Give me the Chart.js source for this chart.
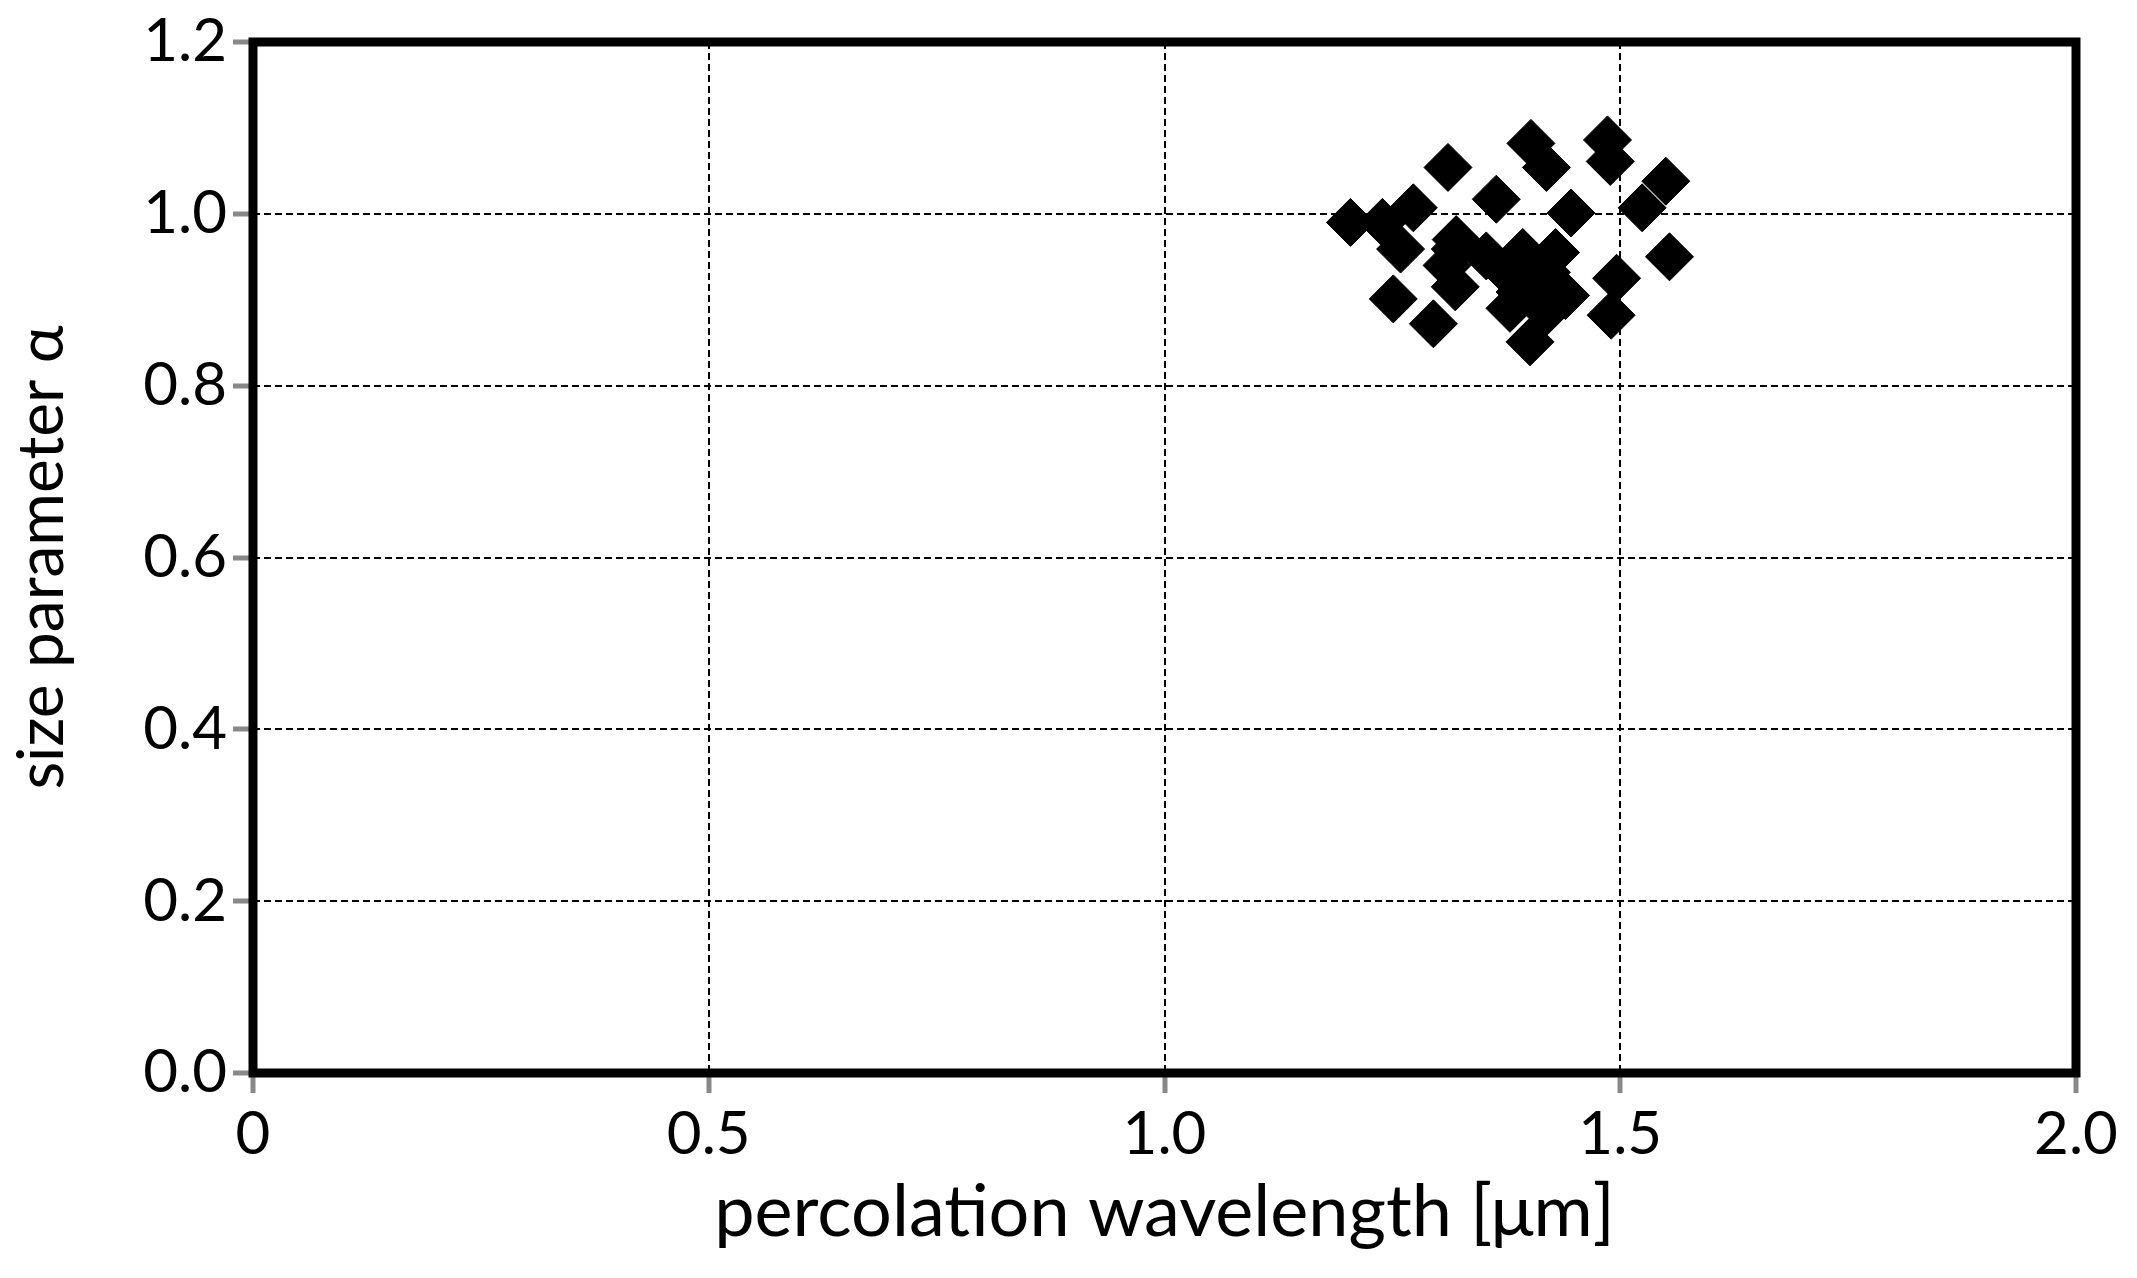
<!DOCTYPE html>
<html><head><meta charset="utf-8">
<script src="https://cdn.jsdelivr.net/npm/chart.js@4"></script>
<style>html,body{margin:0;background:#fff}#w{width:2137px;height:1278px}</style>
</head><body><div id="w"><canvas id="c"></canvas></div>
<script>
const xValues=[1.204,1.239,1.273,1.311,1.259,1.251,1.295,1.319,1.310,1.319,1.353,1.364,1.402,1.419,1.446,1.393,1.429,1.390,1.419,1.440,1.419,1.401,1.379,1.486,1.489,1.550,1.524,1.554,1.496,1.490,1.375,1.320];
const yValues=[0.990,0.990,1.007,1.054,0.959,0.901,0.872,0.959,0.940,0.915,0.951,1.017,1.082,1.054,1.001,0.955,0.955,0.909,0.932,0.905,0.886,0.851,0.890,1.086,1.061,1.038,1.007,0.950,0.925,0.882,0.932,0.970];
const xTicks=[0,0.5,1.0,1.5,2.0];
const xTickLabels=['0','0.5','1.0','1.5','2.0'];
const yTicks=[0,0.2,0.4,0.6,0.8,1.0,1.2];
const pts=xValues.map((x,i)=>({x,y:yValues[i]}));
const F='Lato, "Open Sans", sans-serif';
const frame={id:'frame',afterDatasetsDraw(ch){const a=ch.chartArea,c=ch.ctx;c.save();c.lineWidth=9;c.strokeStyle='#000';c.strokeRect(a.left,a.top,a.right-a.left,a.bottom-a.top);c.restore();}};
new Chart(document.getElementById('c'),{type:'scatter',
data:{datasets:[{data:pts,pointStyle:'rectRot',pointRadius:24,pointHoverRadius:24,backgroundColor:'#000',borderColor:'#000',borderWidth:1}]},
plugins:[frame],
options:{responsive:true,maintainAspectRatio:false,animation:false,
layout:{padding:{top:38,right:61,left:0,bottom:18}},
plugins:{legend:{display:false},tooltip:{enabled:false}},
scales:{
x:{type:'linear',min:0,max:2,afterBuildTicks(s){s.ticks=xTicks.map(v=>({value:v}));},
afterFit(s){s.height=187;},
ticks:{callback:(v)=>xTickLabels[xTicks.indexOf(v)]??'',font:{family:F,size:60},color:'#000',padding:6,maxRotation:0},
grid:{color:'#000',lineWidth:2,tickColor:'#888',tickLength:20,tickWidth:5,tickBorderDash:[]},
border:{display:false,dash:[7,4]},
title:{display:true,text:'percolation wavelength [μm]',font:{family:F,size:72},color:'#000',padding:{top:0}}},
y:{type:'linear',min:0,max:1.2,afterBuildTicks(s){s.ticks=yTicks.map(v=>({value:v}));},
afterFit(s){s.width=253;},
ticks:{callback:(v)=>v.toFixed(1),font:{family:F,size:60},color:'#000',padding:6},
grid:{color:'#000',lineWidth:2,tickColor:'#888',tickLength:20,tickWidth:5,tickBorderDash:[]},
border:{display:false,dash:[7,4]},
title:{display:true,text:'size parameter α',font:{family:F,size:64},color:'#000',padding:{bottom:10}}}
}}});
</script></body></html>
